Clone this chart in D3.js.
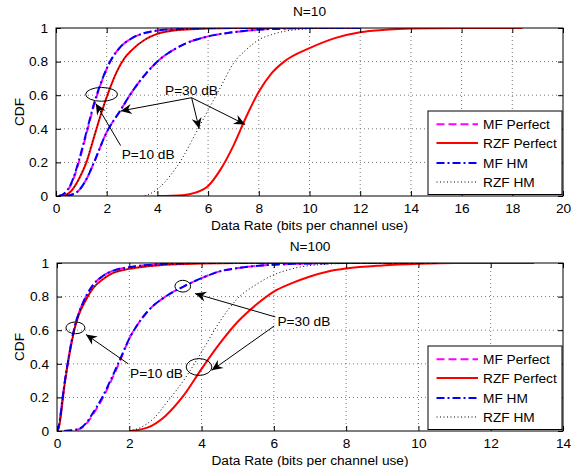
<!DOCTYPE html>
<html>
<head>
<meta charset="utf-8">
<script src="https://cdn.jsdelivr.net/npm/d3@7"></script>
<style>
body { margin: 0; background: #fff; }
text { font-family: "Liberation Sans", Arial, Helvetica, sans-serif; }
</style>
</head>
<body>
<svg id="chart" width="571" height="467"></svg>
<script>
// 圖例名稱與刻度
const seriesNames = ['MF Perfect', 'RZF Perfect', 'MF HM', 'RZF HM'];
const yTicks = [0, 0.2, 0.4, 0.6, 0.8, 1];
const xTicksN10 = [0, 2, 4, 6, 8, 10, 12, 14, 16, 18, 20];
const xTicksN100 = [0, 2, 4, 6, 8, 10, 12, 14];

// N=10, P=10 dB
const n10MfPerfectP10 = [[0.1,0],[0.3,0.01],[0.6,0.07],[0.9,0.2],[1.2,0.37],[1.5,0.54],[1.8,0.68],[2.1,0.79],[2.5,0.88],[3,0.94],[3.5,0.97],[4,0.985],[5,0.995],[6,1],[12,1]];
const n10RzfPerfectP10 = [[0.3,0],[0.6,0.03],[0.9,0.1],[1.2,0.2],[1.5,0.35],[1.8,0.5],[2.1,0.63],[2.4,0.74],[2.7,0.82],[3,0.87],[3.5,0.93],[4,0.965],[5,0.99],[6,0.997],[7,1],[12,1]];
const n10MfHmP10 = [[0.1,0],[0.3,0.012],[0.6,0.075],[0.9,0.21],[1.2,0.38],[1.5,0.55],[1.8,0.685],[2.1,0.79],[2.5,0.88],[3,0.94],[3.5,0.97],[4,0.985],[5,0.995],[6,1],[12,1]];
const n10RzfHmP10 = [[0.3,0],[0.6,0.03],[0.9,0.1],[1.2,0.21],[1.5,0.36],[1.8,0.5],[2.1,0.63],[2.4,0.74],[2.7,0.82],[3,0.87],[3.5,0.93],[4,0.965],[5,0.99],[6,0.997],[7,1],[11,1]];
// N=10, P=30 dB
const n10MfPerfectP30 = [[0.4,0],[0.8,0.02],[1.2,0.1],[1.5,0.2],[2,0.38],[2.5,0.5],[3,0.62],[3.5,0.72],[4,0.8],[5,0.9],[6,0.95],[7,0.975],[8,0.99],[9,0.997],[10,1],[12,1]];
const n10RzfPerfectP30 = [[4,0],[5,0.005],[5.5,0.02],[6,0.06],[6.5,0.16],[7,0.3],[7.5,0.47],[8,0.62],[8.5,0.73],[9,0.8],[10,0.88],[11,0.94],[12,0.975],[13,0.99],[14,0.997],[16,1],[18.4,1]];
const n10MfHmP30 = [[0.4,0],[0.8,0.02],[1.2,0.1],[1.5,0.2],[2,0.38],[2.5,0.5],[3,0.62],[3.5,0.72],[4,0.8],[5,0.9],[6,0.95],[7,0.975],[8,0.99],[9,0.997],[10,1],[12,1]];
const n10RzfHmP30 = [[3.5,0],[4,0.04],[4.5,0.12],[5,0.23],[5.5,0.37],[6,0.51],[6.5,0.65],[7,0.79],[7.5,0.87],[8,0.93],[8.5,0.96],[9,0.98],[10,0.995],[11,1]];

// N=100, P=10 dB
const n100MfPerfectP10 = [[0,0],[0.05,0.03],[0.1,0.1],[0.15,0.19],[0.2,0.27],[0.3,0.41],[0.4,0.53],[0.5,0.63],[0.6,0.7],[0.8,0.8],[1,0.87],[1.25,0.92],[1.5,0.95],[2,0.975],[2.5,0.988],[3,0.995],[4,1],[10.5,1]];
const n100RzfPerfectP10 = [[0,0],[0.05,0.02],[0.1,0.08],[0.15,0.17],[0.2,0.26],[0.3,0.4],[0.4,0.52],[0.5,0.62],[0.6,0.69],[0.8,0.78],[1,0.85],[1.25,0.9],[1.5,0.935],[2,0.965],[2.5,0.98],[3,0.99],[4,0.997],[5,1],[9,1]];
const n100MfHmP10 = [[0,0],[0.05,0.03],[0.1,0.1],[0.15,0.19],[0.2,0.27],[0.3,0.41],[0.4,0.53],[0.5,0.63],[0.6,0.7],[0.8,0.8],[1,0.87],[1.25,0.92],[1.5,0.95],[2,0.975],[2.5,0.988],[3,0.995],[4,1],[10.5,1]];
const n100RzfHmP10 = [[0,0],[0.05,0.02],[0.1,0.08],[0.15,0.17],[0.2,0.26],[0.3,0.4],[0.4,0.52],[0.5,0.62],[0.6,0.69],[0.8,0.78],[1,0.85],[1.25,0.9],[1.5,0.935],[2,0.965],[2.5,0.98],[3,0.99],[4,0.997],[5,1],[9,1]];
// N=100, P=30 dB
const n100MfPerfectP30 = [[0.2,0],[0.6,0.01],[0.8,0.04],[1,0.1],[1.25,0.19],[1.5,0.3],[1.75,0.42],[2,0.55],[2.25,0.64],[2.5,0.71],[3,0.8],[3.5,0.86],[4,0.91],[4.5,0.95],[5,0.97],[6,0.99],[7,0.997],[8,1],[10.5,1]];
const n100RzfPerfectP30 = [[2,0],[2.5,0.02],[3,0.09],[3.5,0.21],[4,0.37],[4.5,0.52],[5,0.65],[5.5,0.75],[6,0.83],[6.5,0.88],[7,0.92],[7.5,0.95],[8,0.967],[9,0.985],[10,0.995],[11,1],[13.2,1]];
const n100MfHmP30 = [[0.2,0],[0.6,0.012],[0.8,0.045],[1,0.11],[1.25,0.2],[1.5,0.31],[1.75,0.43],[2,0.55],[2.25,0.64],[2.5,0.71],[3,0.8],[3.5,0.86],[4,0.91],[4.5,0.95],[5,0.97],[6,0.99],[7,0.997],[8,1],[10.5,1]];
const n100RzfHmP30 = [[2,0],[2.3,0.02],[2.7,0.08],[3,0.16],[3.5,0.3],[4,0.47],[4.5,0.65],[5,0.79],[5.5,0.87],[6,0.93],[6.5,0.965],[7,0.985],[8,0.997],[9.5,1]];

// 註解：橢圓 [cx, cy, rx, ry]、箭頭 [x1, y1, x2, y2]、文字 [label, x, y]
const n10Ellipses = [[1.8, 0.605, 0.63, 0.041]];
const n10Arrows = [[2.55, 0.3, 1.57, 0.55], [5.35, 0.585, 2.55, 0.506], [5.35, 0.585, 5.65, 0.4], [5.35, 0.585, 7.46, 0.426]];
const n10Labels = [['P=10 dB', 2.59, 0.22], ['P=30 dB', 4.3, 0.6]];
const n100Ellipses = [[0.51, 0.614, 0.263, 0.035], [3.48, 0.862, 0.217, 0.035], [3.93, 0.381, 0.355, 0.05]];
const n100Arrows = [[1.97, 0.4, 0.8, 0.575], [6.04, 0.679, 3.82, 0.818], [6.01, 0.625, 4.28, 0.361]];
const n100Labels = [['P=10 dB', 2.02, 0.314], ['P=30 dB', 6.1, 0.626]];

// 線條樣式（依圖例順序）
const styles = [
    { color: '#ff00ff', dash: '8,4', width: 2 },
    { color: '#ff0000', dash: null, width: 2 },
    { color: '#0000ff', dash: '8,3,2,3', width: 2 },
    { color: '#000000', dash: '1,2.5', width: 1 }
];

const svg = d3.select('#chart');
const fontSize = 13.7;

// 箭頭標記
svg.append('defs').append('marker')
    .attr('id', 'arrowhead')
    .attr('markerUnits', 'userSpaceOnUse')
    .attr('viewBox', '-12 -6 14 12')
    .attr('markerWidth', 14)
    .attr('markerHeight', 12)
    .attr('refX', 0)
    .attr('refY', 0)
    .attr('orient', 'auto')
    .append('path')
    .attr('d', 'M0,0 L-11,-5 L-7.5,0 L-11,5 Z')
    .attr('fill', '#000');

function drawPanel(cfg) {
    const x = d3.scaleLinear().domain(cfg.xDomain).range([cfg.left, cfg.right]);
    const y = d3.scaleLinear().domain([0, 1]).range([cfg.bottom, cfg.top]);
    const w = cfg.right - cfg.left;
    const h = cfg.bottom - cfg.top;
    const g = svg.append('g');

    const clipId = 'clip-' + cfg.id;
    g.append('clipPath').attr('id', clipId)
        .append('rect')
        .attr('x', cfg.left).attr('y', cfg.top)
        .attr('width', w).attr('height', h);

    // 網格
    const grid = g.append('g').attr('stroke', '#555').attr('stroke-width', 0.8).attr('stroke-dasharray', '1,3');
    cfg.xTicks.slice(1, -1).forEach(t => {
        grid.append('line')
            .attr('x1', x(t)).attr('x2', x(t))
            .attr('y1', cfg.top).attr('y2', cfg.bottom);
    });
    yTicks.slice(1, -1).forEach(t => {
        grid.append('line')
            .attr('x1', cfg.left).attr('x2', cfg.right)
            .attr('y1', y(t)).attr('y2', y(t));
    });

    // 曲線
    const line = d3.line().x(d => x(d[0])).y(d => y(d[1])).curve(d3.curveMonotoneX);
    const curves = g.append('g').attr('clip-path', `url(#${clipId})`);
    cfg.series.forEach((pair, i) => {
        pair.forEach(data => {
            curves.append('path')
                .datum(data)
                .attr('fill', 'none')
                .attr('stroke', styles[i].color)
                .attr('stroke-width', styles[i].width)
                .attr('stroke-dasharray', styles[i].dash)
                .attr('d', line);
        });
    });

    // 座標軸（刻度朝內，四邊皆有）
    const bottomAxis = g.append('g')
        .attr('transform', `translate(0, ${cfg.bottom})`)
        .call(d3.axisBottom(x).tickValues(cfg.xTicks).tickSizeInner(-5).tickSizeOuter(0).tickPadding(7));
    const leftAxis = g.append('g')
        .attr('transform', `translate(${cfg.left}, 0)`)
        .call(d3.axisLeft(y).tickValues(yTicks).tickFormat(d3.format('~g')).tickSizeInner(-5).tickSizeOuter(0).tickPadding(8));
    g.append('g')
        .attr('transform', `translate(0, ${cfg.top})`)
        .call(d3.axisTop(x).tickValues(cfg.xTicks).tickSizeInner(-5).tickSizeOuter(0).tickFormat(''));
    g.append('g')
        .attr('transform', `translate(${cfg.right}, 0)`)
        .call(d3.axisRight(y).tickValues(yTicks).tickSizeInner(-5).tickSizeOuter(0).tickFormat(''));
    g.selectAll('.domain').remove();
    g.selectAll('.tick line').attr('stroke', '#000');
    [bottomAxis, leftAxis].forEach(a => a.selectAll('text')
        .style('font-size', fontSize + 'px')
        .attr('fill', '#000'));

    g.append('rect')
        .attr('x', cfg.left).attr('y', cfg.top)
        .attr('width', w).attr('height', h)
        .attr('fill', 'none').attr('stroke', '#000').attr('stroke-width', 1);

    // 標題與軸標籤
    g.append('text')
        .attr('x', (cfg.left + cfg.right) / 2)
        .attr('y', cfg.top - 12)
        .attr('text-anchor', 'middle')
        .style('font-size', fontSize + 'px')
        .text(cfg.title);
    g.append('text')
        .attr('x', (cfg.left + cfg.right) / 2)
        .attr('y', cfg.bottom + 34)
        .attr('text-anchor', 'middle')
        .style('font-size', fontSize + 'px')
        .text('Data Rate (bits per channel use)');
    g.append('text')
        .attr('transform', `translate(24, ${(cfg.top + cfg.bottom) / 2}) rotate(-90)`)
        .attr('text-anchor', 'middle')
        .style('font-size', fontSize + 'px')
        .text('CDF');

    // 註解
    cfg.ellipses.forEach(e => {
        g.append('ellipse')
            .attr('cx', x(e[0])).attr('cy', y(e[1]))
            .attr('rx', x(e[2]) - x(0)).attr('ry', y(0) - y(e[3]))
            .attr('fill', 'none').attr('stroke', '#000').attr('stroke-width', 1);
    });
    cfg.arrows.forEach(a => {
        g.append('line')
            .attr('x1', x(a[0])).attr('y1', y(a[1]))
            .attr('x2', x(a[2])).attr('y2', y(a[3]))
            .attr('stroke', '#000').attr('stroke-width', 1)
            .attr('marker-end', 'url(#arrowhead)');
    });
    cfg.labels.forEach(l => {
        g.append('text')
            .attr('x', x(l[1])).attr('y', y(l[2]))
            .style('font-size', fontSize + 'px')
            .text(l[0]);
    });

    // 圖例
    const lg = g.append('g').attr('transform', `translate(${cfg.right - 135}, ${cfg.bottom - 85})`);
    lg.append('rect')
        .attr('width', 134).attr('height', 83.5)
        .attr('fill', '#fff').attr('stroke', '#000').attr('stroke-width', 1);
    const rowY = [13.3, 32, 52, 71];
    seriesNames.forEach((name, i) => {
        lg.append('line')
            .attr('x1', 8.5).attr('x2', 50)
            .attr('y1', rowY[i]).attr('y2', rowY[i])
            .attr('stroke', styles[i].color)
            .attr('stroke-width', styles[i].width)
            .attr('stroke-dasharray', styles[i].dash);
        lg.append('text')
            .attr('x', 55).attr('y', rowY[i])
            .attr('dy', '0.35em')
            .style('font-size', fontSize + 'px')
            .text(name);
    });
}

drawPanel({
    id: 'n10', title: 'N=10',
    left: 56, right: 563, top: 28, bottom: 196,
    xDomain: [0, 20], xTicks: xTicksN10,
    series: [
        [n10MfPerfectP10, n10MfPerfectP30],
        [n10RzfPerfectP10, n10RzfPerfectP30],
        [n10MfHmP10, n10MfHmP30],
        [n10RzfHmP10, n10RzfHmP30]
    ],
    ellipses: n10Ellipses, arrows: n10Arrows, labels: n10Labels
});

drawPanel({
    id: 'n100', title: 'N=100',
    left: 57, right: 563, top: 263, bottom: 431,
    xDomain: [0, 14], xTicks: xTicksN100,
    series: [
        [n100MfPerfectP10, n100MfPerfectP30],
        [n100RzfPerfectP10, n100RzfPerfectP30],
        [n100MfHmP10, n100MfHmP30],
        [n100RzfHmP10, n100RzfHmP30]
    ],
    ellipses: n100Ellipses, arrows: n100Arrows, labels: n100Labels
});
</script>
</body>
</html>
